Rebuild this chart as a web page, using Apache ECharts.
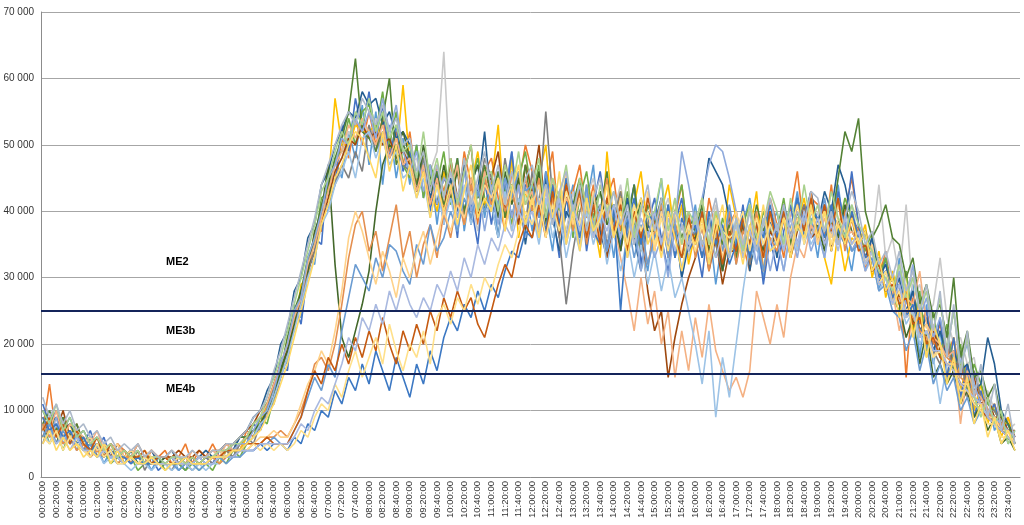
<!DOCTYPE html>
<html>
<head>
<meta charset="utf-8">
<script src="https://cdn.jsdelivr.net/npm/echarts@6/dist/echarts.min.js"></script>
<style>
html, body { margin: 0; background: #fff; }
#chart { width: 1024px; height: 525px; }
</style>
</head>
<body>
<div id="chart"></div>
<script>
// one value every 10 minutes, 00:00:00 -> 23:50:00, in thousands
const s01 = [9,6,8,5,7,4, 6,3,5,2,4,3, 2,4,2,3,1,3, 2,3,1,2,3,2, 2,3,2,4,3,5, 5,8,7,11,12,18,
  17,25,24,33,32,41, 40,48,45,52,48,56, 47,55,44,53,45,51, 44,50,42,47,38,46, 41,48,37,44,47,39, 45,36,43,49,40,44,
  37,45,40,34,43,39, 44,36,41,47,35,40, 33,41,38,44,36,31, 39,45,34,38,30,36, 41,33,38,29,36,40, 32,38,42,35,30,37,
  40,34,37,43,35,39, 33,41,37,44,36,31, 38,32,35,28,33,26, 33,24,29,18,26,17, 22,14,19,11,16,9, 10,12,7,9,5,7];
const s02 = [7,14,6,9,5,7, 4,6,3,5,3,5, 4,2,4,2,4,3, 4,2,3,5,2,4, 3,5,3,4,5,4, 7,6,9,9,14,15,
  20,22,28,30,37,37, 45,44,51,48,54,50, 55,50,54,49,52,47, 52,44,49,41,47,43, 47,40,49,44,38,46, 48,42,37,46,44,50,
  46,39,44,49,37,42, 43,47,39,44,36,42, 45,37,42,35,41,38, 36,42,33,39,44,35, 39,34,42,37,31,38, 40,35,31,39,36,42,
  38,33,40,46,37,42, 41,36,44,35,40,45, 38,31,36,30,34,27, 31,15,28,23,25,20, 23,18,21,15,17,12, 14,10,11,8,9,6];
const s03 = [6,8,5,8,6,7, 5,4,5,3,5,3, 3,4,3,2,3,2, 3,2,3,2,2,3, 3,2,4,3,5,4, 6,7,9,10,12,17,
  18,24,26,32,34,40, 42,47,48,52,50,54, 51,54,50,52,49,50, 47,48,43,46,49,64, 44,40,46,42,37,43, 45,39,42,47,40,44,
  41,46,38,43,40,37, 43,38,42,45,39,36, 40,44,37,41,35,39, 35,39,42,37,40,33, 38,34,36,41,35,38, 36,40,33,38,35,39,
  38,35,40,37,41,36, 40,36,38,42,37,41, 36,37,35,44,33,36, 30,41,27,29,24,26, 33,24,20,21,17,18, 12,13,10,10,7,8];
const s04 = [9,7,9,6,8,5, 6,4,5,3,4,2, 3,3,2,3,2,3, 2,3,2,3,2,2, 3,3,2,4,3,4, 6,7,8,11,13,15,
  21,22,29,30,36,38, 44,57,50,50,53,52, 52,53,51,50,48,59, 47,43,49,44,40,46, 42,47,38,44,49,41, 44,53,39,48,36,43,
  40,45,50,38,43,36, 41,37,44,39,33,49, 38,43,35,41,46,37, 34,40,44,36,41,32, 37,42,34,40,35,44, 39,33,37,43,31,36,
  35,40,33,38,42,36, 39,33,29,37,31,36, 35,38,30,34,27,31, 27,31,22,27,18,23, 20,15,21,13,17,10, 14,8,11,6,9,5];
const s05 = [11,8,10,7,9,6, 5,7,4,6,3,4, 2,3,4,2,3,1, 2,3,2,1,3,2, 3,2,4,3,4,6, 6,8,7,10,14,17,
  16,26,23,31,36,35, 47,44,53,49,57,52, 58,51,56,48,53,46, 49,43,47,40,46,38, 44,36,47,41,35,45, 38,45,41,49,39,44,
  43,36,46,40,33,42, 37,44,34,41,46,39, 41,35,39,44,32,38, 42,36,31,38,42,34, 36,30,39,35,32,40, 34,41,33,38,29,36,
  31,37,41,35,39,43, 36,41,34,43,38,46, 38,33,36,29,33,27, 29,24,28,21,25,18, 24,15,21,12,17,9, 13,9,11,7,8,5];
const s06 = [8,5,7,4,7,5, 4,5,3,4,2,3, 2,3,1,2,2,3, 1,2,2,1,2,1, 2,1,3,2,4,3, 5,6,9,8,12,16,
  19,24,26,33,35,42, 43,48,49,54,50,55, 56,52,58,50,55,47, 45,50,42,47,44,49, 41,47,39,44,48,42, 40,46,43,38,45,49,
  42,47,38,44,40,45, 36,42,46,39,43,38, 41,36,43,38,34,40, 37,42,35,40,44,36, 40,35,38,33,39,36, 33,38,41,35,40,37,
  37,42,35,40,36,41, 38,34,40,37,42,39, 37,34,37,30,33,27, 25,31,23,28,19,25, 18,23,16,20,13,17, 14,11,10,8,7,5];
const s07 = [10,8,9,7,8,6, 7,5,6,4,5,4, 4,3,5,3,4,2, 3,4,2,3,2,3, 4,3,4,5,4,6, 7,9,10,13,15,20,
  22,28,30,36,38,44, 46,50,52,55,54,58, 56,57,53,55,51,52, 50,45,48,42,46,39, 45,40,47,38,43,52, 41,36,45,39,44,35,
  42,37,45,39,34,40, 38,43,35,41,37,33, 40,34,42,36,31,38, 36,41,33,38,30,35, 37,41,48,46,44,39, 34,40,31,37,33,39,
  33,39,36,42,38,43, 38,43,40,47,44,39, 37,33,36,30,32,27, 30,25,28,22,24,19, 22,18,19,16,17,13, 14,21,17,10,8,6];
const s08 = [6,9,7,10,6,8, 5,6,4,5,3,5, 3,4,3,3,4,3, 3,3,4,3,3,4, 3,4,4,5,5,6, 7,8,10,11,14,17,
  19,24,26,31,34,38, 42,46,48,51,50,53, 51,52,50,51,48,49, 47,43,46,41,45,40, 48,42,46,50,39,44, 45,49,40,44,38,47,
  43,50,39,44,36,45, 40,44,36,42,38,33, 38,42,35,40,37,28, 22,25,15,21,26,30, 33,38,31,36,29,34, 34,38,32,39,33,37,
  35,39,33,37,41,36, 37,41,34,39,35,40, 35,37,31,33,28,30, 27,28,23,25,20,22, 19,20,17,17,14,15, 11,12,9,9,7,7];
const s09 = [5,8,6,9,5,7, 4,6,3,5,4,2, 3,2,4,1,3,2, 2,1,3,2,1,2, 3,2,3,4,3,5, 6,5,8,10,11,15,
  18,23,26,31,34,40, 41,44,47,45,49,46, 53,49,52,48,50,47, 46,43,48,44,41,45, 43,47,39,45,42,48, 45,40,48,42,46,38,
  46,41,55,42,36,26, 34,40,43,37,41,35, 39,43,36,40,34,38, 40,35,41,33,38,35, 37,33,39,35,31,36, 35,39,32,37,34,40,
  36,40,34,38,41,37, 39,35,41,36,38,34, 36,32,34,29,31,27, 28,25,26,22,23,19, 17,22,15,19,12,16, 12,10,10,8,7,6];
const s10 = [8,10,7,9,6,8, 5,6,4,5,4,3, 3,4,2,3,3,2, 2,3,2,3,2,3, 3,3,4,4,5,6, 6,8,9,11,13,16,
  21,25,28,33,36,41, 44,48,51,55,63,52, 51,49,54,60,47,50, 48,44,49,43,46,41, 43,48,40,45,42,47, 42,46,39,44,41,47,
  40,45,38,44,41,36, 41,45,37,42,40,46, 37,42,38,44,35,41, 38,42,34,40,36,39, 37,41,33,39,35,38, 33,39,35,41,37,40,
  37,41,35,39,38,42, 37,40,38,45,52,49, 54,40,36,38,41,36, 35,30,33,26,29,24, 26,21,30,18,22,15, 16,12,14,9,8,5];
const s11 = [6,7,5,8,5,6, 4,5,3,4,3,4, 2,3,3,2,3,2, 3,2,2,3,2,2, 2,3,3,4,4,5, 6,7,8,10,12,16,
  19,23,28,31,37,40, 47,32,21,18,22,26, 31,40,47,50,49,52, 48,43,50,45,41,47, 42,46,39,44,47,40, 44,39,46,41,45,37,
  41,46,38,43,37,42, 40,44,36,41,43,38, 39,34,40,36,42,37, 37,41,34,38,33,36, 36,40,34,38,31,37, 35,39,33,37,34,40,
  37,41,34,38,36,40, 38,34,40,36,41,37, 35,37,31,33,28,30, 26,21,24,17,22,15, 17,14,16,11,13,9, 11,7,9,5,6,4];
const s12 = [9,7,10,6,8,7, 6,5,7,4,5,4, 4,3,5,3,4,3, 3,4,3,2,4,3, 3,4,3,5,4,5, 6,8,9,11,14,17,
  20,24,27,32,35,39, 43,47,49,53,51,54, 52,50,53,48,51,47, 48,43,47,41,45,39, 43,47,38,45,40,46, 40,45,42,37,44,41,
  43,37,41,45,38,42, 40,36,42,38,35,40, 38,33,28,22,30,23, 28,20,25,15,22,16, 24,18,26,19,16,13, 15,12,16,28,24,20,
  26,21,30,35,33,38, 36,39,35,38,36,37, 35,33,34,30,31,28, 22,27,26,31,23,21, 20,18,19,8,16,13, 12,10,9,8,7,6];
const s13 = [7,5,8,6,5,6, 4,3,4,2,3,2, 2,1,2,2,1,2, 2,1,2,2,1,2, 1,2,2,3,3,4, 5,6,8,9,12,15,
  18,22,26,30,33,38, 40,44,46,49,45,51, 52,48,51,47,49,45, 46,42,45,39,44,38, 42,37,44,38,43,40, 41,36,43,37,42,39,
  40,35,42,36,40,33, 38,34,40,35,39,32, 37,31,36,30,35,29, 34,28,33,27,30,25, 20,14,22,9,18,12, 20,28,35,32,37,34,
  36,31,38,34,39,35, 37,33,39,35,38,34, 35,31,33,28,30,26, 27,23,25,20,22,18, 11,17,17,14,14,12, 11,9,8,7,6,5];
const s14 = [8,6,9,5,7,6, 5,6,4,4,3,4, 3,2,3,2,3,2, 2,3,2,3,2,3, 2,3,3,4,4,5, 5,7,9,10,13,17,
  20,25,27,33,36,40, 45,47,51,50,54,52, 55,51,57,52,56,49, 46,49,43,47,41,45, 44,39,46,40,44,37, 43,38,45,39,44,36,
  42,37,44,39,41,35, 40,35,43,38,41,34, 38,41,33,38,31,37, 33,36,30,38,49,44, 38,42,47,50,49,45, 40,34,38,32,37,31,
  36,31,37,33,39,34, 37,33,40,35,38,34, 36,31,34,30,31,26, 31,26,32,24,27,21, 24,19,25,17,20,14, 11,10,9,8,7,6];
const s15 = [8,6,7,5,6,4, 5,3,4,3,4,2, 3,3,2,3,2,2, 2,3,2,2,3,2, 2,3,2,3,3,4, 4,5,5,6,6,7,
  6,8,10,13,17,18, 16,20,26,33,38,40, 34,37,31,36,41,33, 37,30,35,38,33,40, 36,42,38,44,40,45, 41,44,40,43,39,45,
  40,45,36,42,38,44, 37,43,35,41,39,45, 36,42,34,40,37,32, 37,41,33,38,35,40, 33,38,31,37,34,40, 32,37,35,40,31,36,
  34,39,36,41,37,43, 35,40,36,42,34,39, 37,33,34,29,30,27, 27,25,24,22,21,19, 19,18,17,15,14,12, 11,10,8,8,6,5];
const s16 = [6,8,5,7,5,6, 4,5,3,4,3,3, 2,3,2,2,3,2, 2,2,1,2,2,1, 2,2,3,2,3,3, 4,4,5,5,6,5,
  5,7,9,12,15,13, 17,15,22,27,32,30, 28,33,30,35,34,31, 29,35,32,38,34,36, 40,37,42,39,43,40, 44,41,45,42,46,43,
  44,39,46,38,42,36, 41,37,44,36,40,34, 41,36,39,33,38,32, 36,40,33,38,31,36, 37,40,32,37,34,41, 35,39,33,36,31,38,
  35,40,36,42,37,40, 37,42,36,41,38,34, 35,32,33,28,29,25, 24,19,22,16,20,14, 17,13,15,10,12,8, 10,9,8,7,6,5];
const s17 = [7,9,6,8,6,7, 5,6,4,5,4,5, 3,4,3,4,3,3, 3,2,3,3,2,3, 3,3,4,3,4,4, 5,5,6,6,7,6,
  6,8,11,14,16,19, 17,22,28,36,40,37, 33,29,34,31,27,33, 30,34,37,32,36,40, 37,41,39,43,40,44, 42,45,41,44,40,43,
  41,44,37,43,39,46, 38,42,36,43,35,41, 37,42,34,40,36,43, 34,40,36,42,33,38, 38,42,35,39,33,37, 40,35,41,37,33,39,
  36,41,34,39,37,41, 35,40,36,41,37,35, 37,32,35,29,31,26, 29,25,26,21,23,18, 20,17,17,14,14,11, 11,9,9,7,7,5];
const s18 = [9,7,8,6,7,5, 6,4,5,3,4,3, 3,2,3,2,2,3, 2,2,3,2,2,3, 2,3,3,3,3,4, 4,4,5,4,5,5,
  4,6,5,8,7,10, 9,13,11,15,13,17, 14,19,16,13,18,15, 12,17,14,19,16,21, 24,22,26,24,28,25, 29,27,31,34,33,37,
  36,42,37,44,38,45, 41,36,42,37,35,41, 40,25,38,42,35,40, 38,34,41,33,39,36, 38,33,40,35,38,32, 35,40,33,38,36,41,
  36,41,37,42,36,40, 39,36,41,37,35,40, 36,33,34,30,31,27, 29,24,26,21,22,19, 19,17,16,14,13,11, 10,9,8,7,6,5];
const s19 = [7,9,6,8,5,7, 5,4,6,3,5,3, 4,3,3,4,2,3, 3,2,3,2,3,2, 3,3,3,4,4,4, 5,5,5,6,5,5,
  5,7,9,13,16,14, 18,16,20,17,21,18, 22,19,24,20,17,22, 19,23,20,25,22,27, 24,28,25,27,23,21, 25,29,32,30,35,38,
  36,41,36,43,37,44, 40,43,36,41,35,42, 37,41,34,40,36,42, 38,34,40,36,33,39, 35,40,33,38,32,37, 34,39,35,38,33,40,
  35,40,36,41,37,42, 36,41,37,42,35,39, 34,35,31,32,28,29, 26,27,23,24,20,21, 18,17,16,14,13,11, 10,9,8,7,6,5];
const s20 = [6,5,7,4,6,5, 4,3,5,3,4,2, 2,3,2,3,2,2, 2,2,3,2,2,2, 2,3,3,3,4,4, 4,5,4,5,4,5,
  4,5,7,6,9,11, 10,14,12,16,19,15, 18,21,17,23,19,16, 20,18,22,17,24,26, 23,27,25,29,26,30, 28,32,35,33,37,40,
  38,42,36,41,37,43, 40,38,42,36,39,41, 36,40,35,41,37,40, 35,39,34,40,35,38, 34,38,33,39,37,36, 37,40,34,39,35,38,
  35,39,37,41,35,40, 38,40,35,39,37,35, 36,32,34,29,31,26, 28,24,25,21,22,18, 19,17,16,13,13,11, 10,8,8,6,6,5];
const s21 = [5,7,5,6,4,6, 4,4,3,4,3,3, 2,3,2,2,3,2, 2,3,2,2,2,3, 2,2,3,3,3,4, 4,4,5,5,5,5,
  5,6,8,7,10,12, 11,14,17,21,19,24, 22,26,23,28,25,29, 26,24,27,25,29,27, 31,28,33,30,35,32, 36,34,38,36,40,38,
  40,37,43,38,42,36, 41,37,42,36,40,37, 41,36,40,35,39,36, 40,35,39,34,38,35, 39,34,38,33,37,34, 38,33,37,34,39,35,
  38,34,39,35,40,36, 39,35,38,34,39,35, 37,32,34,29,30,26, 29,24,25,21,22,19, 19,17,16,14,13,12, 11,9,8,7,6,5];
const s22 = [10,8,11,7,9,6, 7,5,6,4,5,3, 4,3,4,2,3,3, 2,3,3,2,3,2, 3,3,4,4,5,5, 6,8,9,12,15,18,
  22,26,30,34,38,43, 45,49,52,50,55,53, 57,52,55,51,53,49, 50,45,52,44,48,42, 48,41,46,50,40,45, 46,40,47,43,49,41,
  44,48,39,45,42,47, 39,45,41,37,44,40, 43,38,45,36,41,39, 40,45,37,42,35,40, 38,42,35,40,37,33, 39,34,41,36,38,43,
  40,35,42,37,44,38, 41,37,43,39,36,41, 38,36,34,31,30,28, 32,27,30,25,28,22, 27,19,25,16,21,12, 9,12,8,10,5,7];
const s23 = [5,7,4,6,4,5, 3,4,3,5,2,4, 2,3,2,2,3,2, 1,2,2,3,2,2, 2,3,3,3,4,4, 5,6,7,9,11,14,
  17,21,25,29,33,38, 41,45,47,50,52,51, 48,45,52,46,50,43, 47,42,46,39,44,40, 44,38,43,47,39,42, 40,45,37,43,47,38,
  42,36,44,39,46,35, 40,34,42,37,39,44, 36,40,33,39,42,35, 38,33,40,36,31,37, 35,39,32,37,41,33, 37,32,38,35,41,34,
  35,39,33,38,36,41, 36,40,34,38,35,39, 35,37,31,33,28,30, 24,29,21,26,18,23, 20,14,18,11,15,8, 11,6,9,5,7,4];
const s24 = [12,9,11,8,10,7, 8,6,7,5,6,4, 5,4,5,3,4,3, 3,4,3,3,4,3, 3,4,4,5,5,6, 7,9,10,12,16,19,
  23,27,31,35,39,44, 47,50,53,55,53,57, 55,53,56,52,54,50, 51,46,49,43,47,42, 46,42,48,41,45,49, 43,47,41,46,40,45,
  47,41,44,38,43,46, 40,44,37,42,45,39, 43,38,41,35,40,44, 37,42,35,40,38,34, 40,35,38,42,36,33, 39,35,40,34,38,42,
  37,41,36,40,38,43, 42,37,40,35,39,43, 40,35,37,32,34,30, 34,28,31,25,29,22, 28,18,26,15,22,12, 17,9,14,7,11,5];

const days = [s01, s02, s03, s04, s05, s06, s07, s08, s09, s10, s11, s12,
  s13, s14, s15, s16, s17, s18, s19, s20, s21, s22, s23, s24];
const colors = ['#5B9BD5', '#ED7D31', '#C9C9C9', '#FFC000', '#4472C4', '#70AD47',
  '#255E91', '#9E480E', '#7F7F7F', '#548235', '#43682B', '#F4B183',
  '#9DC3E6', '#8FAADC', '#E48F4F', '#6A9BD1', '#FFD28A', '#3C78C3',
  '#C55A11', '#FFE08A', '#A9B9E0', '#A9D18E', '#FFD966', '#ADB9CA'];

// thresholds between the zones
const limits = [25000, 15500];
const zones = ['ME2', 'ME3b', 'ME4b'];

// 5-minute slots for the category axis
const times = [];
for (let m = 0; m < 1440; m += 5) {
    const h = String(Math.floor(m / 60)).padStart(2, '0');
    const mm = String(m % 60).padStart(2, '0');
    times.push(h + ':' + mm + ':00');
}

days.forEach((d, i) => {
    if (d.length !== 144) throw new Error('series ' + (i + 1) + ' has ' + d.length + ' values');
});

// each 10-minute value sits on every other 5-minute slot
function toSlots(values) {
    const out = [];
    values.forEach(v => {
        out.push(v * 1000);
        out.push(null);
    });
    return out;
}

const series = days.map((d, i) => ({
    name: 'day' + (i + 1),
    type: 'line',
    symbol: 'none',
    connectNulls: true,
    lineStyle: { width: 1.6, color: colors[i] },
    itemStyle: { color: colors[i] },
    data: toSlots(d)
}));

series.push({
    name: 'limits',
    type: 'line',
    data: [],
    markLine: {
        silent: true,
        symbol: ['none', 'none'],
        label: { show: false },
        lineStyle: { color: '#14245A', width: 2, type: 'solid' },
        data: limits.map(v => ({ yAxis: v }))
    }
});

const chart = echarts.init(document.getElementById('chart'));
chart.setOption({
    animation: false,
    backgroundColor: '#fff',
    grid: { left: 41, right: 4, top: 12, bottom: 48, outerBoundsMode: 'none' },
    xAxis: {
        type: 'category',
        data: times,
        boundaryGap: true,
        axisLine: { lineStyle: { color: '#8c8c8c' } },
        axisTick: { interval: 0, length: 3, lineStyle: { color: '#8c8c8c' } },
        axisLabel: {
            interval: 3,
            rotate: 90,
            fontSize: 9.5,
            color: '#333',
            fontFamily: 'Liberation Sans',
            margin: 4
        }
    },
    yAxis: {
        type: 'value',
        min: 0,
        max: 70000,
        interval: 10000,
        axisLine: { show: true, lineStyle: { color: '#8c8c8c' } },
        axisTick: { show: false },
        splitLine: { lineStyle: { color: '#a6a6a6' } },
        axisLabel: {
            fontSize: 10,
            color: '#333',
            fontFamily: 'Liberation Sans',
            margin: 7,
            formatter: v => v === 0 ? '0' : (v / 1000) + ' 000'
        }
    },
    graphic: [
        { type: 'text', left: 166, top: 256, style: { text: zones[0], font: 'bold 11px "Liberation Sans"', fill: '#000' } },
        { type: 'text', left: 166, top: 325, style: { text: zones[1], font: 'bold 11px "Liberation Sans"', fill: '#000' } },
        { type: 'text', left: 166, top: 383, style: { text: zones[2], font: 'bold 11px "Liberation Sans"', fill: '#000' } }
    ],
    series: series
});
</script>
</body>
</html>
